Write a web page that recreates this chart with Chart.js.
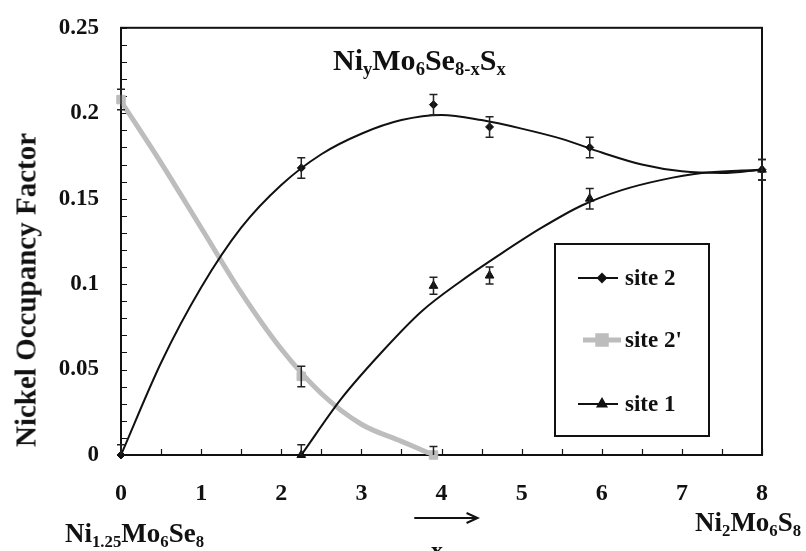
<!DOCTYPE html>
<html>
<head>
<meta charset="utf-8">
<script src="https://cdn.jsdelivr.net/npm/chart.js@4.4.1/dist/chart.umd.min.js"></script>
<style>
  body { margin: 0; background: #fff; }
  #wrap { position: relative; width: 806px; height: 551px; overflow: hidden;
          font-family: "Liberation Serif", "DejaVu Serif", serif; font-weight: bold; color: #111; }
  #wrap canvas { position: absolute; left: 0; top: 0; }
  .formula { position: absolute; white-space: nowrap; line-height: 1; }
  .formula sub { font-size: 0.62em; vertical-align: -0.28em; line-height: 0; }
  #ytitle { position: absolute; left: 26px; top: 290px; white-space: nowrap; line-height: 1;
            font-size: 29px; transform: translate(-50%, -50%) rotate(-90deg); }
</style>
</head>
<body>
<div id="wrap">
  <canvas id="chart"></canvas>
  <div id="ytitle">Nickel Occupancy Factor</div>
  <div class="formula" style="left:333px; top:45px; font-size:30px;">Ni<sub>y</sub>Mo<sub>6</sub>Se<sub>8-x</sub>S<sub>x</sub></div>
  <div class="formula" style="left:65px; top:520px; font-size:27px;">Ni<sub>1.25</sub>Mo<sub>6</sub>Se<sub>8</sub></div>
  <div class="formula" style="left:695px; top:509px; font-size:27px;">Ni<sub>2</sub>Mo<sub>6</sub>S<sub>8</sub></div>
  <div class="formula" style="left:431px; top:538px; font-size:24px;">x</div>
</div>
<script>
const seriesNames = ['site 2', "site 2'", 'site 1'];
const xTickLabels = ['0', '1', '2', '3', '4', '5', '6', '7', '8'];
const yTickLabels = ['0', '0.05', '0.1', '0.15', '0.2', '0.25'];

// measured points with error bars
const site2X = [0, 2.25, 3.9, 4.6, 5.85, 8];
const site2Y = [0, 0.168, 0.205, 0.192, 0.180, 0.167];
const site2Err = [0.006, 0.006, 0.006, 0.006, 0.006, 0.006];

const site2pX = [0, 2.25, 3.9];
const site2pY = [0.208, 0.046, 0];
const site2pErr = [0.006, 0.006, 0.005];

const site1X = [2.25, 3.9, 4.6, 5.85, 8];
const site1Y = [0, 0.099, 0.105, 0.150, 0.167];
const site1Err = [0.006, 0.005, 0.005, 0.006, 0.006];

// fitted curves
const site2FitX = [0, 0.5, 1.0, 1.5, 2.0, 2.5, 3.0, 3.5, 4.0, 4.5, 5.0, 5.5, 6.0, 6.5, 7.0, 7.5, 8.0];
const site2FitY = [0, 0.054, 0.098, 0.133, 0.158, 0.176, 0.188, 0.196, 0.199, 0.196, 0.191, 0.185, 0.177, 0.170, 0.166, 0.165, 0.167];
const site1FitX = [2.25, 2.75, 3.25, 3.75, 4.25, 4.75, 5.25, 5.75, 6.25, 6.75, 7.25, 7.75, 8.0];
const site1FitY = [0, 0.033, 0.060, 0.084, 0.102, 0.118, 0.133, 0.146, 0.155, 0.161, 0.165, 0.1665, 0.167];
const site2pFitX = [0, 0.5, 1.0, 1.5, 2.0, 2.5, 3.0, 3.5, 3.9];
const site2pFitY = [0.207, 0.171, 0.133, 0.095, 0.062, 0.036, 0.018, 0.008, 0.0];

const GREY = '#bdbdbd';
const INK = '#111';

const pts = (xs, ys) => xs.map((x, i) => ({ x: x, y: ys[i] }));

Chart.defaults.font.family = '"Liberation Serif", "DejaVu Serif", serif';
Chart.defaults.font.weight = 'bold';
Chart.defaults.color = INK;

// error bars from the dataset's errors array
const errorBars = {
    id: 'errorBars',
    afterDatasetsDraw(chart) {
        const { ctx, chartArea: a, scales: { x, y } } = chart;
        ctx.save();
        ctx.strokeStyle = '#222';
        ctx.lineWidth = 1.5;
        chart.data.datasets.forEach(ds => {
            if (!ds.errors) return;
            ds.data.forEach((p, i) => {
                const px = x.getPixelForValue(p.x);
                const top = y.getPixelForValue(p.y + ds.errors[i]);
                const bot = Math.min(y.getPixelForValue(p.y - ds.errors[i]), a.bottom);
                ctx.beginPath();
                ctx.moveTo(px, top); ctx.lineTo(px, bot);
                ctx.moveTo(px - 4, top); ctx.lineTo(px + 4, top);
                if (bot < a.bottom) { ctx.moveTo(px - 4, bot); ctx.lineTo(px + 4, bot); }
                ctx.stroke();
            });
        });
        ctx.restore();
    }
};

// plot frame with inward ticks, and the arrow under the axis
const frame = {
    id: 'frame',
    beforeDatasetsDraw(chart) {
        const { ctx, chartArea: a, scales: { x, y } } = chart;
        ctx.save();
        ctx.strokeStyle = INK;
        ctx.lineWidth = 1.2;
        ctx.beginPath();
        x.ticks.forEach(t => {
            const px = Math.round(x.getPixelForValue(t.value)) + 0.5;
            ctx.moveTo(px, a.bottom); ctx.lineTo(px, a.bottom - 6);
        });
        y.ticks.forEach(t => {
            const py = Math.round(y.getPixelForValue(t.value)) + 0.5;
            ctx.moveTo(a.left, py); ctx.lineTo(a.left + 6, py);
        });
        ctx.stroke();
        ctx.lineWidth = 2;
        ctx.strokeRect(a.left, a.top, a.width, a.height);

        const ax0 = x.getPixelForValue(3.66), ax1 = x.getPixelForValue(4.45);
        const ay = a.bottom + 63;
        ctx.beginPath();
        ctx.moveTo(ax0, ay); ctx.lineTo(ax1, ay);
        ctx.moveTo(ax1 - 11, ay - 5); ctx.lineTo(ax1, ay); ctx.lineTo(ax1 - 11, ay + 5);
        ctx.stroke();
        ctx.restore();
    }
};

// boxed legend inside the plot
const legendBox = {
    id: 'legendBox',
    afterDraw(chart) {
        const { ctx } = chart;
        const markers = chart.data.datasets.filter(ds => ds.legendRow !== undefined);
        ctx.save();
        ctx.strokeStyle = INK;
        ctx.lineWidth = 2;
        ctx.strokeRect(555, 244, 154, 192);
        const rows = [278, 340, 404];
        markers.forEach(ds => {
            const ry = rows[ds.legendRow];
            const grey = ds.legendRow === 1;
            ctx.strokeStyle = grey ? GREY : INK;
            ctx.lineWidth = grey ? 5 : 2;
            ctx.beginPath();
            ctx.moveTo(grey ? 583 : 578, ry);
            ctx.lineTo(grey ? 621 : 618, ry);
            ctx.stroke();
            ctx.fillStyle = ds.backgroundColor;
            ctx.strokeStyle = ds.borderColor;
            Chart.helpers.drawPoint(ctx, {
                pointStyle: ds.pointStyle, radius: ds.pointRadius, rotation: 0, borderWidth: 1
            }, 602, ry);
            ctx.fillStyle = INK;
            ctx.font = 'bold 23px "Liberation Serif", serif';
            ctx.textBaseline = 'middle';
            ctx.fillText(seriesNames[ds.legendRow], 625, ry + 1);
        });
        ctx.restore();
    }
};

const curveStyle = (color, width) => ({
    type: 'line', showLine: true, pointRadius: 0, borderColor: color, borderWidth: width,
    cubicInterpolationMode: 'monotone', fill: false
});

new Chart(document.getElementById('chart'), {
    type: 'line',
    data: {
        datasets: [
            Object.assign({ data: pts(site2pFitX, site2pFitY), order: 3 }, curveStyle(GREY, 5)),
            Object.assign({ data: pts(site2FitX, site2FitY), order: 2 }, curveStyle(INK, 2)),
            Object.assign({ data: pts(site1FitX, site1FitY), order: 2 }, curveStyle(INK, 2)),
            {
                label: seriesNames[0], legendRow: 0, data: pts(site2X, site2Y), errors: site2Err,
                showLine: false, pointStyle: 'rectRot', pointRadius: 4, borderWidth: 1,
                backgroundColor: INK, borderColor: INK, order: 0, clip: false
            },
            {
                label: seriesNames[1], legendRow: 1, data: pts(site2pX, site2pY), errors: site2pErr,
                showLine: false, pointStyle: 'rect', pointRadius: 6, borderWidth: 1,
                backgroundColor: GREY, borderColor: GREY, order: 1, clip: false
            },
            {
                label: seriesNames[2], legendRow: 2, data: pts(site1X, site1Y), errors: site1Err,
                showLine: false, pointStyle: 'triangle', pointRadius: 5, borderWidth: 1,
                backgroundColor: INK, borderColor: INK, order: 0, clip: false
            }
        ]
    },
    options: {
        responsive: true,
        maintainAspectRatio: false,
        animation: false,
        layout: { padding: { left: 0, right: 44, top: 20, bottom: 0 } },
        plugins: { legend: { display: false }, tooltip: { enabled: false } },
        scales: {
            x: {
                type: 'linear', min: 0, max: 8,
                afterFit: s => { s.height = 96; },
                grid: { display: false }, border: { display: false },
                ticks: {
                    stepSize: 0.5, autoSkip: false, maxRotation: 0, padding: 16,
                    font: { size: 24, weight: 'bold' },
                    callback: v => Number.isInteger(v) ? xTickLabels[v] : ''
                }
            },
            y: {
                min: 0, max: 0.25,
                afterFit: s => { s.width = 121; },
                grid: { display: false }, border: { display: false },
                ticks: {
                    stepSize: 0.01, autoSkip: false, padding: 14,
                    font: { size: 23, weight: 'bold' },
                    callback: v => {
                        const k = Math.round(v / 0.05);
                        return Math.abs(v - k * 0.05) < 1e-9 ? yTickLabels[k] : '';
                    }
                }
            }
        }
    },
    plugins: [frame, errorBars, legendBox]
});
</script>
</body>
</html>
